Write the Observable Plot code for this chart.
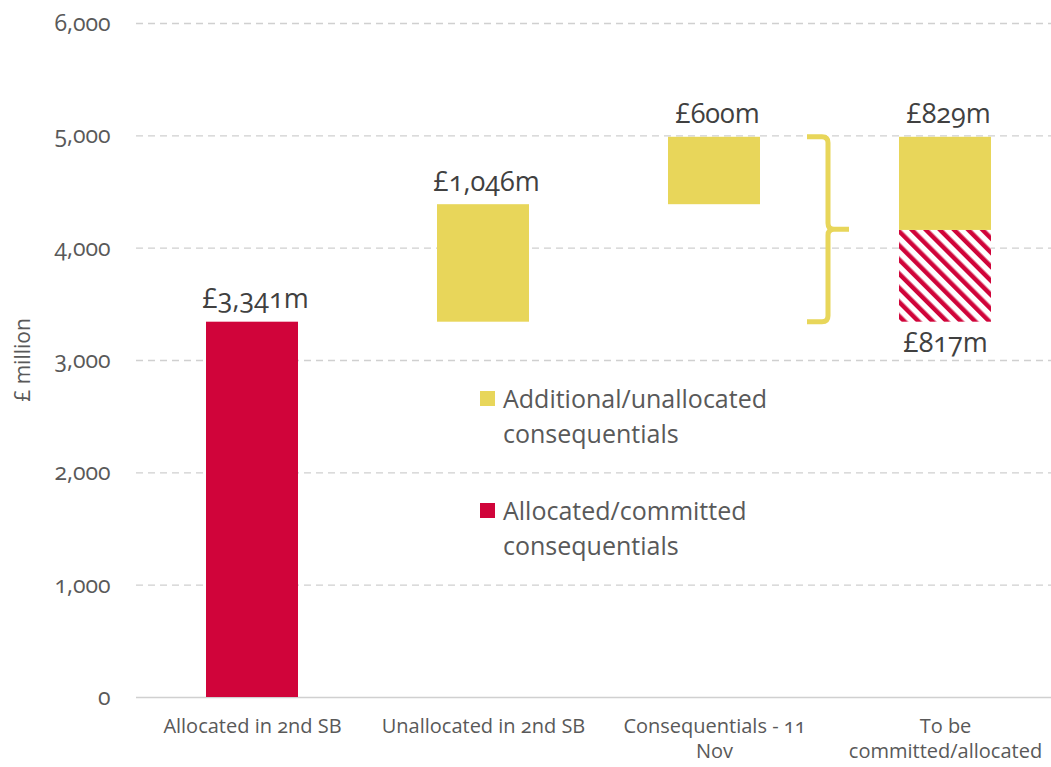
<!DOCTYPE html>
<html>
<head>
<meta charset="utf-8">
<script src="https://cdn.jsdelivr.net/npm/d3@7"></script>
<script src="https://cdn.jsdelivr.net/npm/@observablehq/plot@0.6"></script>
<style>
  html, body { margin: 0; padding: 0; background: #fff; }
  #wrap { position: relative; width: 1051px; height: 767px; font-family: "Open Sans", Lato, sans-serif; }
  #wrap svg { font-variant-numeric: oldstyle-nums; font-feature-settings: "onum" 1; }
  .legend { position: absolute; left: 480px; font-size: 25px; color: #595959; line-height: 35px; font-family: "Open Sans", Lato, sans-serif; }
  .legend .sw { position: absolute; left: 0; top: 10px; width: 15px; height: 15px; }
  .legend .tx { margin-left: 23px; }
  .ylab { position: absolute; left: 22px; top: 360px; transform: translate(-50%, -50%) rotate(-90deg); font-size: 21px; color: #595959; white-space: nowrap; font-family: "Open Sans", Lato, sans-serif; }
</style>
</head>
<body>
<div id="wrap"></div>
<script>
// ---- data ----
const categories = ["Allocated in 2nd SB", "Unallocated in 2nd SB", "Consequentials - 11 Nov", "To be committed/allocated"];
const tickLabels = ["Allocated in 2nd SB", "Unallocated in 2nd SB", "Consequentials - 11\nNov", "To be\ncommitted/allocated"];
const allocatedIn2ndSB = 3341;
const unallocatedIn2ndSB = 1046;
const consequentials11Nov = 600;
const toBeCommitted = 817;     // hatched (allocated/committed)
const toBeAllocated = 829;     // yellow (additional/unallocated)
const yTicks = [0, 1000, 2000, 3000, 4000, 5000, 6000];
const yLabel = "£ million";

const RED = "#D0043A", YELLOW = "#E8D65A";

const t1 = allocatedIn2ndSB;
const t2 = t1 + unallocatedIn2ndSB;
const t3 = t2 + consequentials11Nov;
const t4 = t1 + toBeCommitted;

const segments = [
  {cat: categories[0], y1: 0,  y2: t1, fill: RED},
  {cat: categories[1], y1: t1, y2: t2, fill: YELLOW},
  {cat: categories[2], y1: t2, y2: t3, fill: YELLOW},
  {cat: categories[3], y1: t1, y2: t4, fill: "url(#hatch)"},
  {cat: categories[3], y1: t4, y2: t4 + toBeAllocated, fill: YELLOW}
];
const fmt = v => "£" + d3.format(",")(v) + "m";
const topLabels = [
  {cat: categories[0], y: t1, text: fmt(allocatedIn2ndSB)},
  {cat: categories[1], y: t2, text: fmt(unallocatedIn2ndSB)},
  {cat: categories[2], y: t3, text: fmt(consequentials11Nov)},
  {cat: categories[3], y: t4 + toBeAllocated, text: fmt(toBeAllocated)}
];
const bottomLabels = [
  {cat: categories[3], y: t1, text: fmt(toBeCommitted)}
];

const hatchDefs = () => {
  const g = d3.create("svg:g");
  const p = g.append("defs").append("pattern")
    .attr("id", "hatch").attr("patternUnits", "userSpaceOnUse")
    .attr("width", 10).attr("height", 10)
    .attr("patternTransform", "rotate(-45)");
  p.append("rect").attr("width", 10).attr("height", 10).attr("fill", "#fff");
  p.append("rect").attr("width", 4.5).attr("height", 10).attr("fill", RED);
  return g.node();
};

const brace = (index, scales) => {
  const x = scales.x, y = scales.y;
  const x0 = x(categories[2]) + x.bandwidth() + 47;
  const yTop = y(t3), yBot = y(t1), yMid = (yTop + yBot) / 2;
  const xv = x0 + 21, xt = x0 + 42;
  const r = 6;
  const d = `M${x0},${yTop} L${xv - r},${yTop} Q${xv},${yTop} ${xv},${yTop + r}
             L${xv},${yMid - r} Q${xv},${yMid} ${xv + r},${yMid} L${xt},${yMid}
             M${xv + r},${yMid} Q${xv},${yMid} ${xv},${yMid + r}
             L${xv},${yBot - r} Q${xv},${yBot} ${xv - r},${yBot} L${x0},${yBot}`;
  return d3.create("svg:path").attr("d", d).attr("fill", "none")
    .attr("stroke", YELLOW).attr("stroke-width", 5).node();
};

const chart = Plot.plot({
  width: 1051,
  height: 767,
  marginLeft: 136,
  marginRight: 0,
  marginTop: 23,
  marginBottom: 70,
  style: {fontFamily: "'Open Sans', Lato, sans-serif", background: "#fff"},
  x: {domain: categories, range: [136, 1062], paddingInner: 0.6, paddingOuter: 0.3},
  y: {domain: [0, 6000]},
  marks: [
    hatchDefs,
    Plot.gridY(yTicks.filter(d => d > 0), {stroke: "#d0d0d0", strokeOpacity: 1, strokeDasharray: "7,5", strokeWidth: 1.3}),
    Plot.ruleY([0], {stroke: "#d0d0d0", strokeWidth: 1.5}),
    Plot.barY(segments, {x: "cat", y1: "y1", y2: "y2", fill: d => d.fill}),
    brace,
    Plot.text(topLabels, {x: "cat", y: "y", text: "text", lineAnchor: "bottom", dy: -14, dx: 3, fontSize: 27, fill: "#404040"}),
    Plot.text(bottomLabels, {x: "cat", y: "y", text: "text", lineAnchor: "top", dy: 11, fontSize: 27, fill: "#404040"}),
    Plot.axisY({ticks: yTicks, tickSize: 0, tickPadding: 26, tickFormat: d3.format(","), fontSize: 23, color: "#595959", label: null}),
    Plot.axisX({tickSize: 0, tickPadding: 18, fontSize: 20, color: "#595959", label: null,
      tickFormat: d => tickLabels[categories.indexOf(d)], lineHeight: 1.25})
  ]
});

const wrap = document.getElementById("wrap");
wrap.appendChild(chart);

const yl = document.createElement("div");
yl.className = "ylab";
yl.textContent = yLabel;
wrap.appendChild(yl);

const legendItems = [
  {color: YELLOW, text: "Additional/unallocated<br>consequentials", top: 381},
  {color: RED, text: "Allocated/committed<br>consequentials", top: 493}
];
for (const it of legendItems) {
  const div = document.createElement("div");
  div.className = "legend";
  div.style.top = it.top + "px";
  div.innerHTML = `<span class="sw" style="background:${it.color}"></span><div class="tx">${it.text}</div>`;
  wrap.appendChild(div);
}
</script>
</body>
</html>
